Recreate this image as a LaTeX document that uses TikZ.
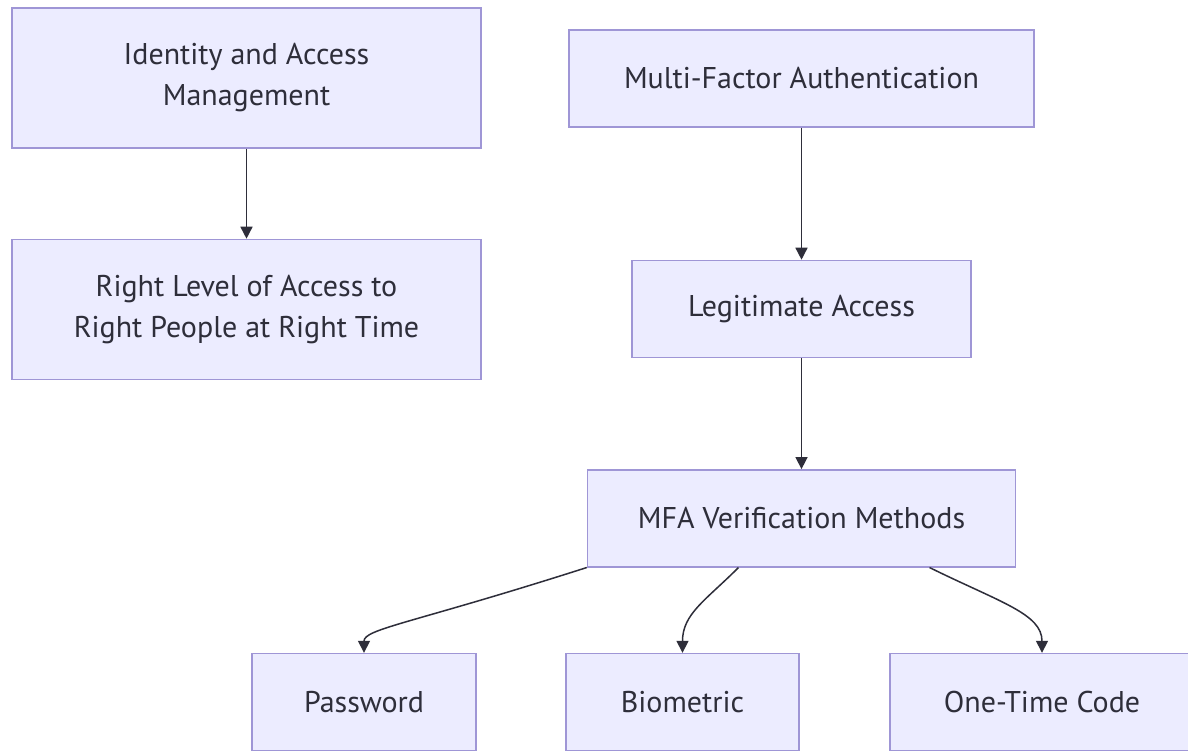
\documentclass[tikz,border=0pt]{standalone}
\usepackage{fontspec}
\setmainfont{PT Sans}
\usepackage{xcolor}
\usetikzlibrary{arrows.meta,positioning}
\definecolor{boxfill}{HTML}{ECECFF}
\definecolor{boxline}{HTML}{9F96D6}
\definecolor{inkgray}{HTML}{2E2E3A}

\begin{document}
\begin{tikzpicture}[
  x=0.5pt,y=-0.5pt,
  >={Triangle[length=6pt,width=6pt]},
  every node/.style={font=\fontsize{15}{20.5}\selectfont,text=inkgray},
  bnode/.style={draw=boxline,fill=boxfill,line width=0.7pt,inner sep=0pt,
                align=center,minimum height=48.5pt},
  link/.style={->,draw=inkgray,line width=0.75pt}
]
\clip (0,0) rectangle (1188,751);
\fill[white] (0,0) rectangle (1188,751);

% ---- identity and access management (left column) ----
\node[bnode,minimum width=234.5pt,minimum height=70pt] (iam) at (246.5,78)
  {Identity and Access\\Management};
\node[bnode,minimum width=234.5pt,minimum height=70pt,below=45pt of iam] (rlevel)
  {Right Level of Access to\\Right People at Right Time};

% ---- multi-factor authentication (right column) ----
\node[bnode,minimum width=232.5pt] (mfa) at (801.5,78.5) {Multi-Factor Authentication};
\node[bnode,minimum width=169.5pt,below=66pt of mfa]    (legit) {Legitimate Access};
\node[bnode,minimum width=214pt,below=55.5pt of legit]  (verif) {MFA Verification Methods};

% ---- verification methods (bottom row) ----
\node[bnode,minimum width=112pt]   (pwd) at (364,702)   {Password};
\node[bnode,minimum width=116.5pt] (bio) at (682.5,702) {Biometric};
\node[bnode,minimum width=152pt]   (otp) at (1042,702)  {One-Time Code};

% arrows
\draw[link] (iam) -- (rlevel);
\draw[link] (mfa) -- (legit);
\draw[link] (legit) -- (verif);
\draw[link] (verif.south west) .. controls +(-175,56) and +(0,-24) .. (pwd.north);
\draw[link] ([xshift=-31.5pt]verif.south) .. controls +(-33,33) and +(0,-39) .. (bio.north);
\draw[link] ([xshift=64pt]verif.south) .. controls +(71,35) and +(0,-39) .. (otp.north);

\end{tikzpicture}
\end{document}
